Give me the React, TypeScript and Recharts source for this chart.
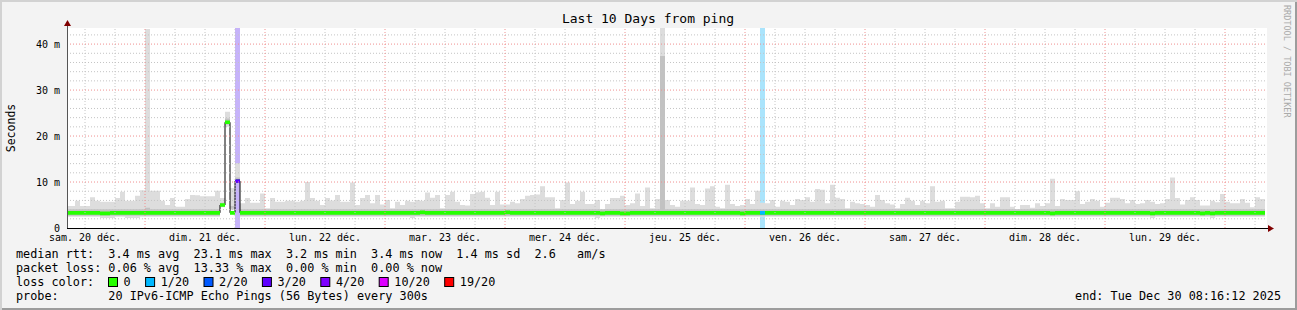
import React from "react";
import {
  Area,
  ComposedChart,
  Line,
  ReferenceArea,
  ReferenceLine,
  XAxis,
  YAxis,
} from "recharts";

const W = 1297;
const H = 310;
const MONO = "'DejaVu Sans Mono', monospace";

// one value per hour, index 0 = sam. 20 déc. 08:00, index 16 = dim. 21 00:00 (ms)
const RTT_MAX = [
  4.8, 4.8, 5.9, 4.8, 4.8, 6.7, 5.9, 5.7, 5.7, 5.7, 6.5, 7.9, 5.9, 5.9, 7.0, 8.2, 43.3, 8.1, 8.1, 5.9, 5.0, 6.5, 4.6, 4.6,
  6.3, 7.2, 7.1, 6.9, 6.9, 6.9, 8.1, 6.5, 25.3, 8.7, 14.1, 5.4, 6.5, 5.5, 5.5, 7.5, 4.3, 6.5, 5.7, 5.7, 5.9, 5.9, 5.7, 5.9,
  10.0, 6.5, 5.9, 5.0, 6.5, 6.0, 7.2, 5.7, 5.7, 9.9, 5.0, 6.5, 7.2, 5.4, 7.2, 5.1, 6.1, 4.3, 5.7, 5.0, 5.9, 5.7, 6.1, 5.9,
  7.7, 6.6, 7.2, 4.3, 7.2, 7.9, 5.7, 5.0, 4.9, 7.4, 7.8, 7.9, 6.6, 5.0, 7.9, 5.1, 5.1, 5.7, 5.4, 6.3, 7.0, 7.2, 7.3, 9.1,
  6.7, 6.7, 4.3, 6.1, 9.9, 5.2, 5.9, 7.9, 5.2, 5.2, 6.1, 4.0, 5.2, 6.5, 6.5, 7.0, 5.0, 5.4, 7.5, 4.8, 8.8, 4.3, 6.3, 43.5,
  6.1, 5.0, 4.6, 5.9, 5.9, 8.8, 5.2, 5.0, 8.6, 9.1, 4.6, 4.3, 9.4, 5.2, 4.8, 5.0, 6.3, 5.2, 8.1, 5.5, 5.4, 6.1, 4.6, 5.9,
  5.7, 5.0, 6.3, 6.1, 6.7, 5.7, 8.5, 8.3, 5.4, 9.4, 6.6, 6.3, 4.3, 5.7, 5.4, 5.2, 5.0, 4.6, 7.2, 6.1, 5.4, 5.1, 4.3, 5.2,
  6.6, 5.9, 5.0, 5.9, 5.4, 9.1, 5.7, 5.9, 4.3, 4.3, 5.7, 6.8, 6.8, 6.7, 7.0, 5.4, 4.3, 5.4, 4.6, 6.7, 6.7, 4.6, 4.1, 5.0,
  5.0, 4.4, 5.4, 4.8, 5.4, 10.7, 4.8, 6.3, 6.1, 6.1, 8.0, 5.2, 5.7, 6.3, 5.9, 4.6, 5.5, 6.6, 6.6, 6.3, 5.4, 6.1, 5.2, 5.4,
  6.1, 5.7, 5.2, 5.4, 6.3, 11.0, 6.5, 5.1, 6.1, 6.7, 6.1, 4.9, 4.9, 5.9, 5.6, 7.4, 5.7, 5.4, 5.4, 6.3, 5.5, 4.5, 6.7, 6.3,
];

const RTT_Q3 = [
  4.1, 4.1, 4.1, 4.1, 4.1, 4.1, 4.1, 4.1, 4.1, 4.1, 4.1, 4.1, 4.1, 4.1, 4.1, 4.1, 4.4, 4.1, 4.1, 4.1, 4.1, 4.1, 4.1, 4.1,
  4.1, 4.1, 4.1, 4.1, 4.1, 4.1, 4.1, 5.5, 23.8, 4.8, 11.0, 4.1, 4.1, 4.1, 4.1, 4.1, 4.1, 4.1, 4.1, 4.1, 4.1, 4.1, 4.1, 4.1,
  4.1, 4.1, 4.1, 4.1, 4.1, 4.1, 4.1, 4.1, 4.1, 4.1, 4.1, 4.1, 4.1, 4.1, 4.1, 4.1, 4.1, 4.1, 4.1, 4.1, 4.1, 4.1, 4.1, 4.1,
  4.1, 4.1, 4.1, 4.1, 4.1, 4.1, 4.1, 4.1, 4.1, 4.1, 4.1, 4.1, 4.1, 4.1, 4.1, 4.1, 4.1, 4.1, 4.1, 4.1, 4.1, 4.1, 4.1, 4.1,
  4.1, 4.1, 4.1, 4.1, 4.1, 4.1, 4.1, 4.1, 4.1, 4.1, 4.1, 4.1, 4.1, 4.1, 4.1, 4.1, 4.1, 4.1, 4.1, 4.1, 4.1, 4.1, 4.1, 37.4,
  4.1, 4.1, 4.1, 4.1, 4.1, 4.1, 4.1, 4.1, 4.1, 4.1, 4.1, 4.1, 4.1, 4.1, 4.1, 4.1, 4.1, 4.1, 4.1, 4.1, 4.1, 4.1, 4.1, 4.1,
  4.1, 4.1, 4.1, 4.1, 4.1, 4.1, 4.1, 4.1, 4.1, 4.1, 4.1, 4.1, 4.1, 4.1, 4.1, 4.1, 4.1, 4.1, 4.1, 4.1, 4.1, 4.1, 4.1, 4.1,
  4.1, 4.1, 4.1, 4.1, 4.1, 4.1, 4.1, 4.1, 4.1, 4.1, 4.1, 4.1, 4.1, 4.1, 4.1, 4.1, 4.1, 4.1, 4.1, 4.1, 4.1, 4.1, 4.1, 4.1,
  4.1, 4.1, 4.1, 4.1, 4.1, 4.1, 4.1, 4.1, 4.1, 4.1, 4.1, 4.1, 4.1, 4.1, 4.1, 4.1, 4.1, 4.1, 4.1, 4.1, 4.1, 4.1, 4.1, 4.1,
  4.1, 4.1, 4.1, 4.1, 4.1, 4.1, 4.1, 4.1, 4.1, 4.1, 4.1, 4.1, 4.1, 4.1, 4.1, 4.1, 4.1, 4.1, 4.1, 4.1, 4.1, 4.1, 4.1, 4.1,
];

const RTT_MEDIAN = [
  3.3, 3.3, 3.3, 3.3, 3.3, 3.3, 3.3, 3.2, 3.2, 3.3, 3.3, 3.3, 3.3, 3.3, 3.3, 3.3, 3.3, 3.3, 3.3, 3.3, 3.3, 3.3, 3.3, 3.3,
  3.3, 3.3, 3.3, 3.3, 3.3, 3.3, 3.3, 5.0, 23.0, 3.3, 10.2, 3.3, 3.3, 3.3, 3.3, 3.3, 3.3, 3.3, 3.3, 3.3, 3.3, 3.3, 3.3, 3.3,
  3.3, 3.3, 3.3, 3.3, 3.3, 3.3, 3.3, 3.3, 3.3, 3.3, 3.3, 3.3, 3.3, 3.3, 3.3, 3.3, 3.3, 3.3, 3.3, 3.3, 3.3, 3.3, 3.3, 3.4,
  3.3, 3.3, 3.3, 3.3, 3.3, 3.3, 3.3, 3.3, 3.3, 3.3, 3.3, 3.3, 3.3, 3.3, 3.3, 3.3, 3.4, 3.3, 3.3, 3.3, 3.3, 3.3, 3.3, 3.3,
  3.3, 3.3, 3.3, 3.3, 3.3, 3.3, 3.3, 3.3, 3.3, 3.3, 3.3, 3.2, 3.3, 3.3, 3.3, 3.2, 3.2, 3.3, 3.3, 3.3, 3.3, 3.3, 3.3, 3.3,
  3.3, 3.3, 3.3, 3.3, 3.3, 3.3, 3.3, 3.3, 3.3, 3.3, 3.3, 3.3, 3.3, 3.3, 3.3, 3.2, 3.3, 3.3, 3.3, 3.3, 3.3, 3.3, 3.3, 3.3,
  3.3, 3.3, 3.3, 3.3, 3.3, 3.3, 3.3, 3.3, 3.3, 3.3, 3.3, 3.3, 3.3, 3.3, 3.3, 3.3, 3.3, 3.3, 3.3, 3.3, 3.3, 3.3, 3.3, 3.3,
  3.3, 3.3, 3.3, 3.3, 3.3, 3.3, 3.3, 3.3, 3.3, 3.3, 3.3, 3.3, 3.3, 3.3, 3.3, 3.3, 3.3, 3.3, 3.3, 3.3, 3.3, 3.3, 3.3, 3.3,
  3.3, 3.3, 3.3, 3.3, 3.3, 3.2, 3.3, 3.3, 3.3, 3.3, 3.3, 3.3, 3.3, 3.3, 3.3, 3.3, 3.3, 3.3, 3.3, 3.3, 3.3, 3.3, 3.3, 3.3,
  3.3, 3.2, 3.3, 3.3, 3.3, 3.3, 3.3, 3.3, 3.3, 3.3, 3.3, 3.2, 3.3, 3.2, 3.3, 3.3, 3.3, 3.3, 3.3, 3.3, 3.3, 3.3, 3.3, 3.3,
];

const RTT_Q1 = [
  2.65, 2.65, 2.65, 2.65, 2.65, 2.65, 2.65, 2.65, 2.65, 2.65, 2.65, 2.65, 2.65, 2.65, 2.65, 2.65, 2.65, 2.65, 2.65, 2.65, 2.65, 2.65, 2.65, 2.65,
  2.65, 2.65, 2.65, 2.65, 2.65, 2.65, 2.65, 4.7, 22.5, 4.2, 10.0, 2.65, 2.65, 2.65, 2.65, 2.65, 2.65, 2.65, 2.65, 2.65, 2.65, 2.65, 2.65, 2.65,
  2.65, 2.65, 2.65, 2.65, 2.65, 2.65, 2.65, 2.65, 2.65, 2.65, 2.65, 2.65, 2.65, 2.65, 2.65, 2.65, 2.65, 2.65, 2.65, 2.65, 2.65, 2.65, 2.65, 2.65,
  2.65, 2.65, 2.65, 2.65, 2.65, 2.65, 2.65, 2.65, 2.65, 2.65, 2.65, 2.65, 2.65, 2.65, 2.65, 2.65, 2.65, 2.65, 2.65, 2.65, 2.65, 2.65, 2.65, 2.65,
  2.65, 2.65, 2.65, 2.65, 2.65, 2.65, 2.65, 2.65, 2.65, 2.65, 2.65, 2.65, 2.65, 2.65, 2.65, 2.65, 2.65, 2.65, 2.65, 2.65, 2.65, 2.65, 2.65, 2.65,
  2.65, 2.65, 2.65, 2.65, 2.65, 2.65, 2.65, 2.65, 2.65, 2.65, 2.65, 2.65, 2.65, 2.65, 2.65, 2.65, 2.65, 2.65, 2.65, 2.65, 2.65, 2.65, 2.65, 2.65,
  2.65, 2.65, 2.65, 2.65, 2.65, 2.65, 2.65, 2.65, 2.65, 2.65, 2.65, 2.65, 2.65, 2.65, 2.65, 2.65, 2.65, 2.65, 2.65, 2.65, 2.65, 2.65, 2.65, 2.65,
  2.65, 2.65, 2.65, 2.65, 2.65, 2.65, 2.65, 2.65, 2.65, 2.65, 2.65, 2.65, 2.65, 2.65, 2.65, 2.65, 2.65, 2.65, 2.65, 2.65, 2.65, 2.65, 2.65, 2.65,
  2.65, 2.65, 2.65, 2.65, 2.65, 2.65, 2.65, 2.65, 2.65, 2.65, 2.65, 2.65, 2.65, 2.65, 2.65, 2.65, 2.65, 2.65, 2.65, 2.65, 2.65, 2.65, 2.65, 2.65,
  2.65, 2.65, 2.65, 2.65, 2.65, 2.65, 2.65, 2.65, 2.65, 2.65, 2.65, 2.65, 2.65, 2.65, 2.65, 2.65, 2.65, 2.65, 2.65, 2.65, 2.65, 2.65, 2.65, 2.65,
];

const RTT_MIN = [
  2.45, 2.45, 2.45, 2.45, 2.45, 2.45, 2.45, 2.15, 2.15, 2.15, 2.45, 2.45, 2.15, 2.15, 2.15, 2.45, 2.45, 2.45, 2.45, 2.45, 2.45, 2.45, 2.45, 2.45,
  2.45, 2.45, 2.45, 2.45, 2.45, 2.45, 2.45, 4.5, 22.0, 3.9, 9.9, 2.45, 2.45, 2.45, 2.45, 2.45, 2.45, 2.45, 2.45, 2.45, 2.45, 2.45, 2.45, 2.45,
  2.45, 2.45, 2.45, 2.45, 2.45, 2.45, 2.45, 2.45, 2.45, 2.45, 2.45, 2.45, 2.45, 2.45, 2.45, 2.45, 2.45, 2.45, 2.45, 2.45, 2.45, 2.15, 2.45, 2.45,
  2.45, 2.45, 2.45, 2.45, 2.45, 2.45, 2.45, 2.45, 2.45, 2.45, 2.45, 2.45, 2.45, 2.45, 2.45, 2.45, 2.45, 2.45, 2.45, 2.45, 2.45, 2.45, 2.45, 2.45,
  2.45, 2.45, 2.45, 2.45, 2.45, 2.45, 2.45, 2.45, 2.45, 2.45, 2.15, 2.45, 2.45, 2.45, 2.45, 2.45, 2.45, 2.45, 2.45, 2.45, 2.45, 2.45, 2.45, 2.45,
  2.45, 2.45, 2.45, 2.45, 2.45, 2.45, 2.45, 2.45, 2.45, 2.45, 2.45, 2.45, 2.45, 2.45, 2.45, 2.45, 2.45, 2.45, 2.45, 2.45, 2.45, 2.45, 2.45, 2.45,
  2.45, 2.45, 2.45, 2.45, 2.45, 2.45, 2.45, 2.45, 2.45, 2.45, 2.45, 2.45, 2.45, 2.45, 2.45, 2.45, 2.45, 2.45, 2.45, 2.45, 2.45, 2.45, 2.45, 2.45,
  2.45, 2.45, 2.45, 2.45, 2.45, 2.45, 2.45, 2.45, 2.45, 2.45, 2.45, 2.45, 2.45, 2.45, 2.45, 2.45, 2.45, 2.45, 2.45, 2.45, 2.45, 2.45, 2.45, 2.45,
  2.45, 2.45, 2.45, 2.45, 2.45, 2.45, 2.45, 2.45, 2.45, 2.45, 2.45, 2.45, 2.45, 2.45, 2.45, 2.45, 2.45, 2.45, 2.45, 2.45, 2.45, 2.45, 2.45, 2.45,
  2.45, 2.15, 2.45, 2.45, 2.45, 2.45, 2.45, 2.45, 2.45, 2.45, 2.45, 2.45, 2.45, 2.15, 2.45, 2.45, 2.45, 2.45, 2.45, 2.45, 2.45, 2.45, 2.45, 2.45,
];

// hours with packet loss, and the loss colour of that hour
const LOSS_HOURS = [34, 139];
const LOSS_COLOR = ["#5e00ff", "#00b8ff"];
const LOSS_SHADE = ["#c6b3fa", "#aae4fc"];

const DAY_LABELS = [
  "sam. 20 déc.", "dim. 21 déc.", "lun. 22 déc.", "mar. 23 déc.", "mer. 24 déc.",
  "jeu. 25 déc.", "ven. 26 déc.", "sam. 27 déc.", "dim. 28 déc.", "lun. 29 déc.",
];
const DAY_LABEL_HOURS = [4, 28, 52, 76, 100, 124, 148, 172, 196, 220];
const MIDNIGHT_HOURS = [16, 40, 64, 88, 112, 136, 160, 184, 208, 232];
const Y_TICKS = [0, 10, 20, 30, 40];

const LEGEND_LABELS = ["0", "1/20", "2/20", "3/20", "4/20", "10/20", "19/20"];
const LEGEND_COLORS = ["#26ff00", "#00b8ff", "#0059ff", "#5e00ff", "#7e00ff", "#dd00ff", "#ff0000"];

const STATS_LINES = [
  "median rtt:  3.4 ms avg  23.1 ms max  3.2 ms min  3.4 ms now  1.4 ms sd  2.6   am/s",
  "packet loss: 0.06 % avg  13.33 % max  0.00 % min  0.00 % now",
];

const HALF = 0.4; // half thickness of the median band, ms
const Y_MAX = 43.5;

const rows = RTT_MAX.map((hi, i) => ({
  t: i,
  smoke: [RTT_MIN[i], hi],
  core: [RTT_Q1[i], RTT_Q3[i]],
  median: RTT_MEDIAN[i],
  band: [RTT_MEDIAN[i] - HALF, RTT_MEDIAN[i] + HALF],
}));
rows.push({ ...rows[rows.length - 1], t: rows.length });

const minorY = Array.from({ length: 22 }, (_, i) => i * 2).filter((v) => v % 10 !== 0);
const minorX = Array.from({ length: 40 }, (_, i) => 4 + i * 6).filter(
  (v) => v < 240 && !MIDNIGHT_HOURS.includes(v),
);

const grid = { strokeDasharray: "1 2", strokeWidth: 1, ifOverflow: "hidden" as const, zIndex: 900 };

export default function App() {
  let lx = 108;
  const legendX = LEGEND_LABELS.map((l) => {
    const x = lx;
    lx += l.length * 7.1 + 30;
    return x;
  });

  return (
    <div
      style={{
        position: "absolute",
        left: 0,
        top: 0,
        width: W,
        height: H,
        background: "#f3f3f3",
        boxShadow: "inset 2px 2px 0 #d2d2d2, inset -2px -2px 0 #9c9c9c",
        fontFamily: MONO,
      }}
    >
      <div style={{ position: "absolute", left: 67, top: 28, width: 1200, height: 200, background: "#fff" }} />
      <div style={{ position: "absolute", left: 0, top: 0 }}>
        <ComposedChart width={W} height={H} data={rows} margin={{ top: 28, right: 32, bottom: 52, left: 0 }}>
          <XAxis
            dataKey="t"
            type="number"
            domain={[0.4, 240]}
            allowDataOverflow
            ticks={DAY_LABEL_HOURS}
            interval={0}
            tickFormatter={(v: number) => DAY_LABELS[DAY_LABEL_HOURS.indexOf(v)] ?? ""}
            tickLine={false}
            axisLine={false}
            tickSize={0}
            tickMargin={6}
            height={30}
            tick={{ fill: "#000", fontSize: 10, fontFamily: MONO }}
          />
          <YAxis
            type="number"
            domain={[0, Y_MAX]}
            allowDataOverflow
            ticks={Y_TICKS}
            interval={0}
            tickFormatter={(v: number) => (v === 0 ? "0" : `${v} m`)}
            tickLine={false}
            axisLine={false}
            tickSize={0}
            tickMargin={7}
            width={67}
            tick={{ fill: "#000", fontSize: 10, fontFamily: MONO }}
          />
          {LOSS_HOURS.map((h, i) => (
            <ReferenceArea
              key={`bg${h}`}
              x1={h}
              x2={h + 1}
              y1={0}
              y2={Y_MAX}
              fill={LOSS_SHADE[i]}
              fillOpacity={1}
              strokeWidth={0}
              ifOverflow="hidden"
              zIndex={10}
            />
          ))}
          <Area
            dataKey="smoke"
            type="stepAfter"
            fill="#dddddd"
            fillOpacity={1}
            stroke="none"
            isAnimationActive={false}
            activeDot={false}
            zIndex={100}
          />
          <Area
            dataKey="core"
            type="stepAfter"
            fill="#c2c2c2"
            fillOpacity={1}
            stroke="none"
            isAnimationActive={false}
            activeDot={false}
            zIndex={110}
          />
          <Line
            dataKey="median"
            type="stepAfter"
            stroke="#000"
            strokeWidth={1}
            dot={false}
            activeDot={false}
            isAnimationActive={false}
            zIndex={120}
          />
          <Area
            dataKey="band"
            type="stepAfter"
            fill="#26ff00"
            fillOpacity={1}
            stroke="none"
            isAnimationActive={false}
            activeDot={false}
            zIndex={130}
          />
          {LOSS_HOURS.map((h, i) => (
            <ReferenceArea
              key={`lc${h}`}
              x1={h}
              x2={h + 1}
              y1={RTT_MEDIAN[h] - HALF}
              y2={RTT_MEDIAN[h] + HALF}
              fill={LOSS_COLOR[i]}
              fillOpacity={1}
              strokeWidth={0}
              ifOverflow="hidden"
              zIndex={140}
            />
          ))}
          {minorY.map((v) => (
            <ReferenceLine key={`my${v}`} y={v} stroke="#c4c4c4" {...grid} />
          ))}
          {minorX.map((v) => (
            <ReferenceLine key={`mx${v}`} x={v} stroke="#c4c4c4" {...grid} />
          ))}
          {Y_TICKS.filter((v) => v > 0).map((v) => (
            <ReferenceLine key={`My${v}`} y={v} stroke="#f09090" {...grid} />
          ))}
          {MIDNIGHT_HOURS.map((v) => (
            <ReferenceLine key={`Mx${v}`} x={v} stroke="#f09090" {...grid} />
          ))}
        </ComposedChart>
      </div>
      <svg width={W} height={H} style={{ position: "absolute", left: 0, top: 0, pointerEvents: "none" }}>
        <line x1={67.5} y1={228} x2={67.5} y2={25} stroke="#555" />
        <polygon points="64,26 71,26 67.5,20" fill="#800000" />
        <line x1={67} y1={228.5} x2={1269} y2={228.5} stroke="#000" />
        <polygon points="1268,225 1268,232 1274,228.5" fill="#800000" />
        <text x={648} y={23} textAnchor="middle" fontSize={13} fontFamily={MONO} fill="#000">
          Last 10 Days from ping
        </text>
        <text
          x={11}
          y={128}
          transform="rotate(-90 11 128)"
          textAnchor="middle"
          dominantBaseline="central"
          fontSize={11.5}
          fontFamily={MONO}
          fill="#000"
        >
          Seconds
        </text>
        <text
          x={1284}
          y={5}
          transform="rotate(90 1284 5)"
          fontSize={8.5}
          fontFamily={MONO}
          fill="#aaaaaa"
        >
          RRDTOOL / TOBI OETIKER
        </text>
        {STATS_LINES.map((s, i) => (
          <text key={i} x={16} y={258 + i * 14} fontSize={11.8} fontFamily={MONO} fill="#000" style={{ whiteSpace: "pre" }}>
            {s}
          </text>
        ))}
        <text x={16} y={286} fontSize={11.8} fontFamily={MONO} fill="#000">
          loss color:
        </text>
        {LEGEND_LABELS.map((l, i) => (
          <g key={l}>
            <rect x={legendX[i] + 0.5} y={277.5} width={9} height={9} fill={LEGEND_COLORS[i]} stroke="#000" />
            <text x={legendX[i] + 15.6} y={286} fontSize={11.8} fontFamily={MONO} fill="#000">
              {l}
            </text>
          </g>
        ))}
        <text x={16} y={300} fontSize={11.8} fontFamily={MONO} fill="#000" style={{ whiteSpace: "pre" }}>
          {"probe:       20 IPv6-ICMP Echo Pings (56 Bytes) every 300s"}
        </text>
        <text x={1281} y={300} textAnchor="end" fontSize={11.8} fontFamily={MONO} fill="#000">
          end: Tue Dec 30 08:16:12 2025
        </text>
      </svg>
    </div>
  );
}
